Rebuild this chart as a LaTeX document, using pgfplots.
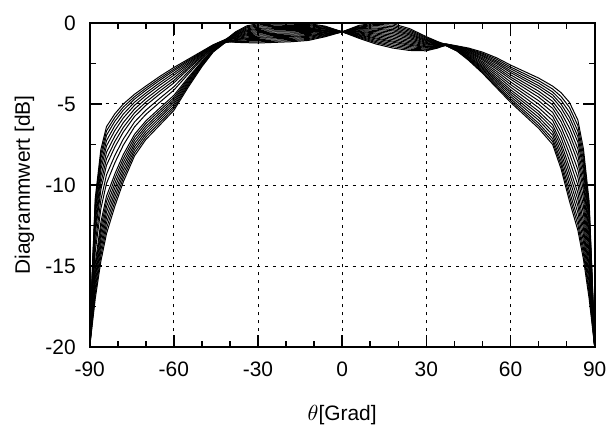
\documentclass[border=0pt]{standalone}
\usepackage{fontspec}
\setmainfont{Liberation Sans}
\usepackage{pgfplots}
\usepackage{pgfplotstable}
\pgfplotsset{compat=1.18}

\pgfplotstableread{
x c0 c1 c2 c3 c4 c5 c6 c7 c8 c9 c10 c11 c12 c13 c14 c15 c16 c17
-90 -20 -20 -20 -20 -20 -20 -20 -20 -20 -20 -20 -20 -20 -20 -20 -20 -20 -20
-89 -15.84 -17.63 -15.28 -18.15 -16.58 -15.00 -17.28 -18.50 -15.46 -17.80 -16.05 -15.14 -18.33 -16.86 -15.63 -17.98 -17.45 -16.26
-88 -12.29 -15.45 -11.30 -16.38 -13.59 -10.80 -14.83 -17.00 -11.61 -15.76 -12.66 -11.05 -16.69 -14.09 -11.92 -16.07 -15.14 -13.03
-86 -9.46 -12.98 -8.35 -14.01 -10.91 -7.80 -12.29 -14.70 -8.70 -13.32 -9.87 -8.08 -14.36 -11.46 -9.04 -13.67 -12.63 -10.28
-84 -7.98 -11.35 -6.93 -12.34 -9.37 -6.40 -10.69 -13.00 -7.26 -11.68 -8.38 -6.66 -12.67 -9.90 -7.59 -12.01 -11.02 -8.78
-81 -6.97 -9.88 -6.06 -10.73 -8.17 -5.60 -9.31 -11.30 -6.34 -10.16 -7.31 -5.83 -11.02 -8.62 -6.63 -10.45 -9.59 -7.65
-78 -6.15 -8.60 -5.38 -9.32 -7.16 -5.00 -8.12 -9.80 -5.62 -8.84 -6.44 -5.19 -9.56 -7.54 -5.86 -9.08 -8.36 -6.73
-74 -5.31 -7.25 -4.70 -7.82 -6.11 -4.40 -6.87 -8.20 -4.89 -7.44 -5.54 -4.55 -8.01 -6.41 -5.08 -7.63 -7.06 -5.77
-70 -4.69 -6.38 -4.16 -6.87 -5.39 -3.90 -6.05 -7.20 -4.33 -6.54 -4.89 -4.03 -7.04 -5.65 -4.49 -6.71 -6.21 -5.09
-65 -4.02 -5.55 -3.54 -6.00 -4.65 -3.30 -5.25 -6.30 -3.69 -5.70 -4.20 -3.42 -6.15 -4.89 -3.84 -5.85 -5.40 -4.38
-60 -3.39 -4.74 -2.96 -5.14 -3.94 -2.75 -4.47 -5.40 -3.09 -4.87 -3.55 -2.86 -5.27 -4.15 -3.23 -5.00 -4.61 -3.70
-55 -2.67 -3.56 -2.39 -3.83 -3.04 -2.25 -3.39 -4.00 -2.48 -3.65 -2.78 -2.32 -3.91 -3.18 -2.57 -3.74 -3.48 -2.88
-50 -1.98 -2.46 -1.83 -2.61 -2.18 -1.75 -2.37 -2.70 -1.87 -2.51 -2.04 -1.79 -2.65 -2.25 -1.92 -2.56 -2.42 -2.09
-46 -1.46 -1.69 -1.39 -1.76 -1.55 -1.35 -1.64 -1.80 -1.41 -1.71 -1.49 -1.37 -1.78 -1.59 -1.43 -1.73 -1.67 -1.51
-42 -1.10 -1.20 -1.07 -1.23 -1.14 -1.05 -1.18 -1.25 -1.08 -1.21 -1.11 -1.06 -1.24 -1.16 -1.09 -1.22 -1.19 -1.12
-38 -0.55 -0.59 -0.63 -0.67 -0.71 -0.74 -0.78 -0.82 -0.86 -0.89 -0.93 -0.97 -1.01 -1.04 -1.08 -1.12 -1.16 -1.20
-34 -0.18 -0.24 -0.30 -0.37 -0.43 -0.48 -0.54 -0.61 -0.67 -0.73 -0.79 -0.86 -0.92 -0.97 -1.03 -1.10 -1.16 -1.22
-30 -0.05 -0.12 -0.19 -0.26 -0.34 -0.40 -0.47 -0.54 -0.61 -0.68 -0.75 -0.82 -0.89 -0.95 -1.03 -1.10 -1.17 -1.24
-24 -0.01 -0.07 -0.14 -0.22 -0.29 -0.35 -0.42 -0.49 -0.56 -0.64 -0.71 -0.78 -0.85 -0.91 -0.98 -1.06 -1.13 -1.20
-18 -0.01 -0.08 -0.15 -0.22 -0.29 -0.34 -0.41 -0.48 -0.55 -0.62 -0.69 -0.76 -0.83 -0.88 -0.95 -1.02 -1.09 -1.16
-12 -0.04 -0.10 -0.16 -0.23 -0.29 -0.34 -0.40 -0.47 -0.53 -0.59 -0.65 -0.72 -0.78 -0.83 -0.89 -0.96 -1.02 -1.08
-6 -0.20 -0.24 -0.28 -0.32 -0.36 -0.39 -0.43 -0.47 -0.51 -0.54 -0.58 -0.62 -0.66 -0.69 -0.73 -0.77 -0.81 -0.85
0 -0.55 -0.55 -0.55 -0.55 -0.55 -0.55 -0.55 -0.55 -0.55 -0.55 -0.55 -0.55 -0.55 -0.55 -0.55 -0.55 -0.55 -0.55
6 -0.95 -0.90 -0.85 -0.81 -0.76 -0.72 -0.67 -0.62 -0.57 -0.53 -0.48 -0.43 -0.38 -0.34 -0.29 -0.25 -0.20 -0.15
12 -1.30 -1.22 -1.15 -1.07 -0.99 -0.93 -0.85 -0.77 -0.69 -0.62 -0.54 -0.46 -0.38 -0.32 -0.24 -0.16 -0.09 -0.01
18 -1.55 -1.46 -1.37 -1.28 -1.19 -1.12 -1.03 -0.94 -0.85 -0.76 -0.67 -0.58 -0.49 -0.41 -0.32 -0.23 -0.14 -0.05
24 -1.70 -1.62 -1.54 -1.46 -1.38 -1.31 -1.23 -1.15 -1.07 -0.98 -0.90 -0.82 -0.74 -0.67 -0.59 -0.51 -0.43 -0.35
30 -1.72 -1.67 -1.62 -1.56 -1.51 -1.47 -1.42 -1.36 -1.31 -1.26 -1.21 -1.15 -1.10 -1.06 -1.01 -0.95 -0.90 -0.85
34 -1.55 -1.53 -1.50 -1.48 -1.45 -1.43 -1.41 -1.39 -1.36 -1.34 -1.31 -1.29 -1.27 -1.25 -1.22 -1.20 -1.17 -1.15
37 -1.37 -1.32 -1.38 -1.30 -1.35 -1.40 -1.33 -1.37 -1.30 -1.35 -1.40 -1.33 -1.31 -1.38 -1.36 -1.32 -1.39 -1.34
41 -1.64 -1.47 -1.70 -1.42 -1.57 -1.73 -1.51 -1.66 -1.44 -1.59 -1.75 -1.53 -1.45 -1.68 -1.61 -1.49 -1.72 -1.55
45 -2.05 -1.66 -2.18 -1.55 -1.89 -2.26 -1.75 -2.09 -1.59 -1.94 -2.30 -1.79 -1.63 -2.14 -1.99 -1.70 -2.23 -1.84
50 -2.66 -2.00 -2.89 -1.80 -2.39 -3.04 -2.14 -2.74 -1.87 -2.48 -3.10 -2.22 -1.93 -2.81 -2.57 -2.06 -2.97 -2.29
55 -3.37 -2.43 -3.70 -2.15 -2.98 -3.91 -2.63 -3.48 -2.24 -3.11 -4.00 -2.74 -2.34 -3.59 -3.24 -2.52 -3.82 -2.85
60 -4.12 -2.95 -4.53 -2.60 -3.64 -4.79 -3.20 -4.26 -2.72 -3.80 -4.90 -3.34 -2.83 -4.39 -3.96 -3.06 -4.67 -3.47
65 -4.78 -3.41 -5.27 -3.00 -4.22 -5.57 -3.70 -4.94 -3.14 -4.40 -5.70 -3.86 -3.27 -5.11 -4.59 -3.54 -5.43 -4.03
70 -5.45 -3.87 -6.00 -3.40 -4.80 -6.35 -4.21 -5.63 -3.56 -5.01 -6.50 -4.39 -3.71 -5.82 -5.23 -4.02 -6.19 -4.58
75 -6.28 -4.44 -6.92 -3.90 -5.52 -7.32 -4.84 -6.49 -4.08 -5.77 -7.50 -5.05 -4.26 -6.71 -6.02 -4.62 -7.14 -5.27
78 -7.40 -5.01 -8.25 -4.30 -6.42 -8.77 -5.52 -7.68 -4.54 -6.74 -9.00 -5.80 -4.77 -7.97 -7.07 -5.24 -8.53 -6.09
81 -8.93 -5.82 -10.02 -4.90 -7.65 -10.70 -6.49 -9.29 -5.21 -8.07 -11.00 -6.85 -5.51 -9.66 -8.50 -6.12 -10.39 -7.22
84 -10.49 -7.02 -11.71 -6.00 -9.06 -12.46 -7.77 -10.90 -6.34 -9.54 -12.80 -8.18 -6.68 -11.30 -10.01 -7.36 -12.12 -8.58
86 -12.29 -8.82 -13.51 -7.80 -10.86 -14.26 -9.57 -12.70 -8.14 -11.34 -14.60 -9.98 -8.48 -13.10 -11.81 -9.16 -13.92 -10.38
88 -14.96 -11.90 -16.04 -11.00 -13.70 -16.70 -12.56 -15.32 -11.30 -14.12 -17.00 -12.92 -11.60 -15.68 -14.54 -12.20 -16.40 -13.28
89 -17.41 -15.78 -17.99 -15.30 -16.74 -18.34 -16.13 -17.60 -15.46 -16.96 -18.50 -16.32 -15.62 -17.80 -17.19 -15.94 -18.18 -16.52
90 -20 -20 -20 -20 -20 -20 -20 -20 -20 -20 -20 -20 -20 -20 -20 -20 -20 -20
}\patterns

\begin{document}
\begin{tikzpicture}
\begin{axis}[
  name=ax,
  scale only axis,
  width=253.5pt, height=162.75pt,
  xmin=-90, xmax=90, ymin=-20, ymax=0,
  xtick={-90,-60,...,90},
  ytick={-20,-15,...,0},
  minor x tick num=2,
  minor y tick num=1,
  major tick length=6pt,
  minor tick length=3pt,
  axis line style={line width=1pt},
  every tick/.style={black, line width=0.8pt},
  grid=major,
  major grid style={black, line width=0.5pt, dash pattern=on 1.5pt off 2.5pt},
  /pgf/number format/assume math mode=true,
  tick label style={font=\fontsize{10.5}{12}\selectfont},
  label style={font=\fontsize{10.5}{12}\selectfont},
  xticklabel style={yshift=-3.75pt},
  yticklabel style={xshift=-3.5pt},
  xlabel={$\theta$[Grad]},
  ylabel={Diagrammwert [dB]},
  xlabel style={at={(axis description cs:0.5,0)}, anchor=base, yshift=-36.75pt},
  ylabel style={at={(axis description cs:-0.1183,0.5)}, anchor=base},
]
\pgfplotsinvokeforeach{0,...,17}{
  \addplot[black, line width=0.5pt] table[x=x, y=c#1] {\patterns};
}
\end{axis}
\path ([shift={(-45pt,-39.75pt)}]ax.south west) rectangle ([shift={(8pt,11.5pt)}]ax.north east);
\end{tikzpicture}
\end{document}
